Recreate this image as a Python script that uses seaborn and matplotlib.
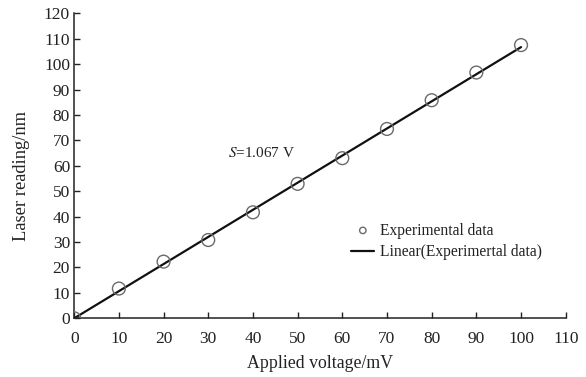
import numpy as np
import pandas as pd
import seaborn as sns
import matplotlib
matplotlib.use("Agg")
import matplotlib.pyplot as plt

# Measured laser reading versus applied voltage
voltage_mv = [0, 10, 20, 30, 40, 50, 60, 70, 80, 90, 100]
reading_nm = [0, 11.7, 22.3, 30.8, 41.7, 52.9, 63.0, 74.5, 85.8, 96.7, 107.5]
sensitivity = 1.067  # slope of the linear fit, nm per mV

x_ticks = list(range(0, 111, 10))
y_ticks = list(range(0, 121, 10))

sns.set_theme(style="ticks")
plt.rcParams["font.family"] = ["Liberation Serif", "DejaVu Serif"]
plt.rcParams["mathtext.fontset"] = "stix"

df = pd.DataFrame({"voltage": voltage_mv, "reading": reading_nm})
fit = pd.DataFrame({"voltage": [voltage_mv[0], voltage_mv[-1]]})
fit["reading"] = sensitivity * fit["voltage"]

fig = plt.figure(figsize=(5.86, 3.77), dpi=100)
ax = fig.add_axes([0.1266, 0.1557, 0.8388, 0.809])

sns.scatterplot(data=df, x="voltage", y="reading", ax=ax, marker="o",
                s=85, facecolor="none", edgecolor="#6a6a6a", linewidth=1.0,
                label="Experimental data", zorder=3)
sns.lineplot(data=fit, x="voltage", y="reading", ax=ax, color="#111111",
             linewidth=1.6, label="Linear(Experimertal data)", zorder=2)

ax.set_xlim(0, 110)
ax.set_ylim(0, 120)
ax.set_xticks(x_ticks)
ax.set_yticks(y_ticks)
ax.tick_params(direction="in", length=4, width=1, labelsize=12.5,
               colors="#222222")
ax.tick_params(axis="x", pad=9)
ax.tick_params(axis="y", pad=3)
for side in ("top", "right"):
    ax.spines[side].set_visible(False)
for side in ("left", "bottom"):
    ax.spines[side].set_linewidth(1.1)
    ax.spines[side].set_color("#222222")

ax.set_xlabel("Applied voltage/mV", fontsize=12.8, color="#222222", labelpad=6)
ax.set_ylabel("Laser reading/nm", fontsize=13.3, color="#222222")
ax.yaxis.set_label_coords(-0.09, 0.467)

ax.text(34.5, 63.5, r"$S$=1.067 V", fontsize=11, color="#222222")

handles, labels = ax.get_legend_handles_labels()
leg = ax.legend(handles, labels, loc="upper left", bbox_to_anchor=(0.535, 0.36),
                frameon=False, fontsize=11.2, handlelength=1.5,
                handletextpad=0.35, labelspacing=0.35, markerscale=0.5)
for t in leg.get_texts():
    t.set_color("#222222")

fig.savefig("out.png", dpi=100, facecolor="white")
